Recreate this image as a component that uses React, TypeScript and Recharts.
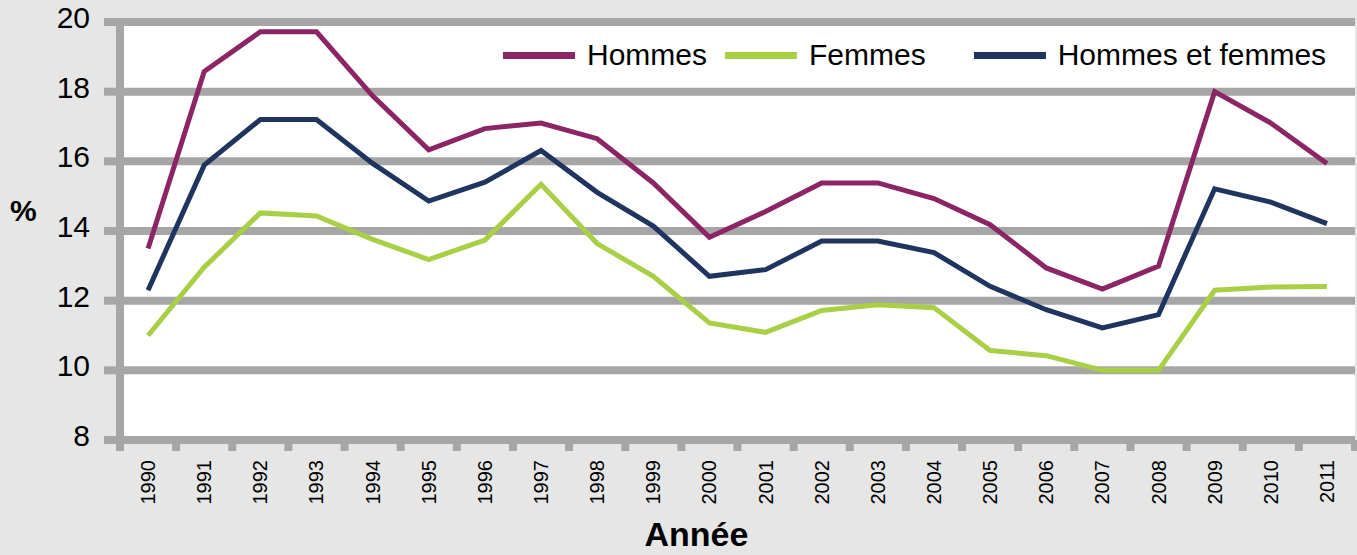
import { LineChart, Line, CartesianGrid, Legend, XAxis, YAxis } from 'recharts';

const years = [
  '1990', '1991', '1992', '1993', '1994', '1995', '1996', '1997', '1998', '1999', '2000',
  '2001', '2002', '2003', '2004', '2005', '2006', '2007', '2008', '2009', '2010', '2011',
];

const hommes = [
  13.5, 18.58, 19.72, 19.72, 17.88, 16.33, 16.94, 17.1, 16.65, 15.38, 13.82,
  14.56, 15.38, 15.38, 14.93, 14.18, 12.94, 12.33, 12.99, 18.0, 17.1, 15.94,
];
const femmes = [
  11.0, 12.96, 14.52, 14.43, 13.76, 13.18, 13.74, 15.34, 13.64, 12.7, 11.36,
  11.09, 11.72, 11.88, 11.8, 10.57, 10.42, 10.0, 10.0, 12.3, 12.39, 12.41,
];
const ensemble = [
  12.3, 15.89, 17.2, 17.2, 15.94, 14.86, 15.4, 16.31, 15.11, 14.14, 12.7,
  12.89, 13.71, 13.71, 13.38, 12.41, 11.74, 11.22, 11.6, 15.21, 14.83, 14.21,
];

const seriesNames = ['Hommes', 'Femmes', 'Hommes et femmes'];
const yTicks = [8, 10, 12, 14, 16, 18, 20];

const data = years.map((year, i) => ({
  year,
  hommes: hommes[i],
  femmes: femmes[i],
  ensemble: ensemble[i],
}));

const FONT = '"Liberation Sans", Arial, Helvetica, sans-serif';
const GRID = '#a6a6a6';

// year labels turned on their side, plus the little marks between categories
function YearTick(props: any) {
  const { x, y, payload, width, visibleTicksCount, index } = props;
  const band = width / visibleTicksCount;
  const axisY = y - 20;
  return (
    <g>
      <rect x={x - band / 2 - 4} y={axisY} width={8} height={11} fill={GRID} />
      {index === visibleTicksCount - 1 && (
        <rect x={x + band / 2 - 4} y={axisY} width={8} height={11} fill={GRID} />
      )}
      <text
        x={x}
        y={y}
        dy="0.35em"
        transform={`rotate(-90, ${x}, ${y})`}
        textAnchor="end"
        fontSize={20}
        fontFamily={FONT}
        fill="#000"
      >
        {payload.value}
      </text>
    </g>
  );
}

function ValueTick(props: any) {
  const { x, y, payload } = props;
  return (
    <text x={x} y={y} dy={6} textAnchor="end" fontSize={30} fontFamily={FONT} fill="#000">
      {payload.value}
    </text>
  );
}

const legendGaps = [18, 48, 0];

function LegendBox({ payload }: any) {
  const items = [...(payload || [])].sort(
    (a: any, b: any) => seriesNames.indexOf(a.value) - seriesNames.indexOf(b.value),
  );
  return (
    <div style={{ display: 'flex', alignItems: 'center', fontFamily: FONT, fontSize: 30, lineHeight: '36px' }}>
      {items.map((entry: any, i: number) => (
        <div key={entry.value} style={{ display: 'flex', alignItems: 'center', marginRight: legendGaps[i] }}>
          <div style={{ width: 72, height: 7, background: entry.color, marginRight: 12 }} />
          <span style={{ color: '#000' }}>{entry.value}</span>
        </div>
      ))}
    </div>
  );
}

export default function App() {
  return (
    <div style={{ position: 'absolute', left: 0, top: 0, width: 1357, height: 555, background: '#e6e6e6' }}>
      <LineChart width={1357} height={555} data={data} margin={{ top: 22, right: 2, bottom: 0, left: 0 }}>
        <CartesianGrid fill="#ffffff" stroke={GRID} strokeWidth={8} vertical={false} />
        <XAxis
          dataKey="year"
          scale="band"
          interval={0}
          height={115}
          tickSize={8}
          tickMargin={12}
          tickLine={false}
          axisLine={{ stroke: GRID, strokeWidth: 8 }}
          tick={<YearTick />}
          label={{
            content: ({ viewBox }: any) => (
              <text
                x={viewBox.x + viewBox.width / 2 - 41}
                y={viewBox.y + viewBox.height - 9}
                textAnchor="middle"
                fontSize={34}
                fontWeight="bold"
                fontFamily={FONT}
                fill="#000"
              >
                Année
              </text>
            ),
          }}
        />
        <YAxis
          width={120}
          domain={[8, 20]}
          ticks={yTicks}
          interval={0}
          tickSize={16}
          tickMargin={14}
          tickLine={{ stroke: GRID, strokeWidth: 8 }}
          axisLine={{ stroke: GRID, strokeWidth: 8 }}
          tick={<ValueTick />}
          label={{
            content: ({ viewBox }: any) => (
              <text
                x={viewBox.x + 10}
                y={viewBox.y + viewBox.height / 2 - 10}
                fontSize={30}
                fontWeight="bold"
                fontFamily={FONT}
                fill="#000"
              >
                %
              </text>
            ),
          }}
        />
        <Legend
          layout="horizontal"
          verticalAlign="middle"
          align="center"
          itemSorter={null}
          content={<LegendBox />}
          wrapperStyle={{ left: 503, top: 37, width: 860 }}
        />
        <Line type="linear" dataKey="hommes" name="Hommes" stroke="#8b2566" strokeWidth={5} dot={false} isAnimationActive={false} />
        <Line type="linear" dataKey="femmes" name="Femmes" stroke="#a8cf45" strokeWidth={5} dot={false} isAnimationActive={false} />
        <Line type="linear" dataKey="ensemble" name="Hommes et femmes" stroke="#1f3560" strokeWidth={5} dot={false} isAnimationActive={false} />
      </LineChart>
    </div>
  );
}
